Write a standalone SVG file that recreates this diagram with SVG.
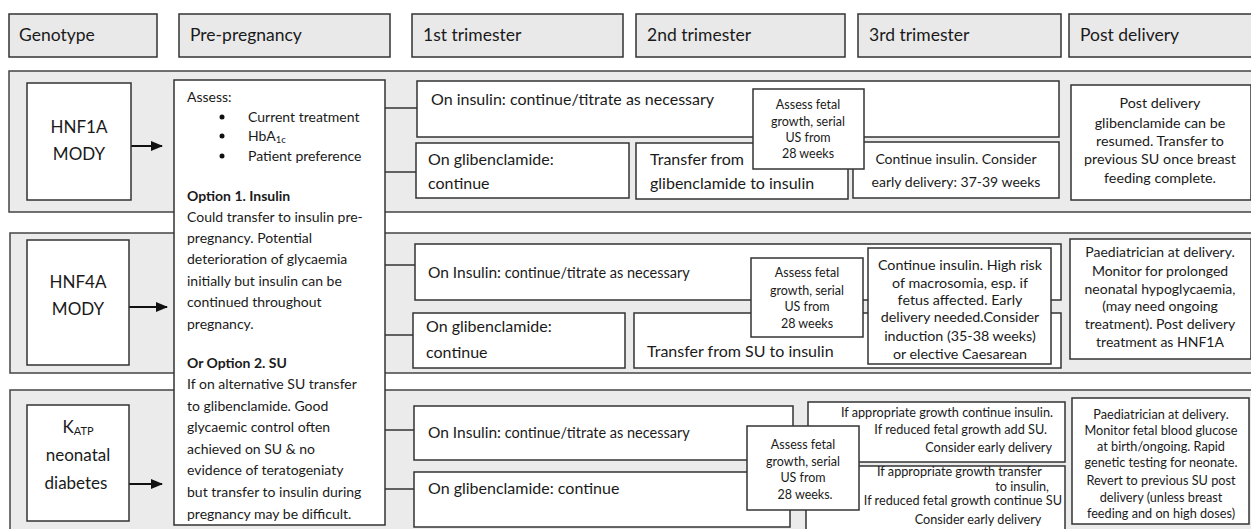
<svg xmlns="http://www.w3.org/2000/svg" width="1251" height="529" viewBox="0 0 1251 529">
<defs>
<style>
text{font-family:Lato,"Liberation Sans",sans-serif;fill:#1a1a1a}
.hdr{fill:#e9e9e9;stroke:#333;stroke-width:1.5}
.band{fill:#ebebeb;stroke:#444;stroke-width:1.5}
.box{fill:#fff;stroke:#333;stroke-width:1.5}
.conn{stroke:#333;stroke-width:1.5;fill:none}
.arr{stroke:#111;stroke-width:2;fill:none}
.h{font-size:17.5px}
.g{font-size:17px}
.m{font-size:16px}
.p{font-size:14px}
.q{font-size:14.3px}
.s{font-size:12.5px}
.t{font-size:12.7px}
.c{text-anchor:middle}
.r{text-anchor:end}
.b{font-weight:bold}
</style>
<marker id="ah" markerUnits="userSpaceOnUse" markerWidth="12" markerHeight="10" refX="11" refY="5" orient="auto">
<path d="M0,0 L12,5 L0,10 z" fill="#111"/>
</marker>
</defs>

<g id="headers">
<rect class="hdr" x="9" y="14" width="148" height="43"/>
<text class="h" x="19" y="41">Genotype</text>
<rect class="hdr" x="179" y="14" width="211" height="43"/>
<text class="h" x="190" y="41">Pre-pregnancy</text>
<rect class="hdr" x="412" y="14" width="211" height="43"/>
<text class="h" x="423" y="41">1st trimester</text>
<rect class="hdr" x="636" y="14" width="209" height="43"/>
<text class="h" x="647" y="41">2nd trimester</text>
<rect class="hdr" x="858" y="14" width="203" height="43"/>
<text class="h" x="869" y="41">3rd trimester</text>
<rect class="hdr" x="1069" y="14" width="185" height="43"/>
<text class="h" x="1080" y="41">Post delivery</text>
</g>

<g id="bands">
<rect class="band" x="9" y="71" width="1250" height="141"/>
<rect class="band" x="10" y="233" width="1250" height="140"/>
<rect class="band" x="10" y="390" width="1250" height="150"/>
</g>

<g id="connectors">
<line class="arr" x1="120" y1="146" x2="162" y2="146" marker-end="url(#ah)"/>
<line class="arr" x1="120" y1="307" x2="167" y2="307" marker-end="url(#ah)"/>
<line class="arr" x1="118" y1="484" x2="162" y2="484" marker-end="url(#ah)"/>
<line class="conn" x1="385" y1="108" x2="417" y2="108"/>
<line class="conn" x1="385" y1="172" x2="416" y2="172"/>
<line class="conn" x1="385" y1="265" x2="415" y2="265"/>
<line class="conn" x1="385" y1="335" x2="413" y2="335"/>
<line class="conn" x1="385" y1="430" x2="414" y2="430"/>
<line class="conn" x1="385" y1="489" x2="414" y2="489"/>
</g>

<g id="hnf1a">
<rect class="box" x="27" y="83" width="104" height="117"/>
<text class="g c" x="79" y="133">HNF1A</text>
<text class="g c" x="79" y="160">MODY</text>
</g>
<g id="hnf4a">
<rect class="box" x="27" y="240" width="102" height="125"/>
<text class="g c" x="78" y="288">HNF4A</text>
<text class="g c" x="78" y="315">MODY</text>
</g>
<g id="katp">
<rect class="box" x="27" y="405" width="102" height="116"/>
<text class="g c" x="78" y="433">K<tspan font-size="11" dy="2">ATP</tspan></text>
<text class="g c" x="78" y="461">neonatal</text>
<text class="g c" x="76" y="489">diabetes</text>
</g>

<g id="prepregnancy">
<rect class="box" x="174" y="80" width="211" height="445"/>
<text class="p" x="187" y="102">Assess:</text>
<circle cx="222" cy="117" r="2.5" fill="#111"/>
<circle cx="222" cy="136" r="2.5" fill="#111"/>
<circle cx="222" cy="156" r="2.5" fill="#111"/>
<text class="p" x="248" y="122">Current treatment</text>
<text class="p" x="248" y="141">HbA<tspan font-size="9.5" dy="2">1c</tspan></text>
<text class="p" x="248" y="161">Patient preference</text>
<text class="p b" x="187" y="201">Option 1. Insulin</text>
<text class="p" x="187" y="222">Could transfer to insulin pre-</text>
<text class="p" x="187" y="243">pregnancy.  Potential</text>
<text class="p" x="187" y="264">deterioration of glycaemia</text>
<text class="p" x="187" y="286">initially but insulin can be</text>
<text class="p" x="187" y="307">continued throughout</text>
<text class="p" x="187" y="329">pregnancy.</text>
<text class="p b" x="187" y="368">Or Option 2. SU</text>
<text class="p" x="187" y="389">If on alternative SU transfer</text>
<text class="p" x="187" y="411">to glibenclamide. Good</text>
<text class="p" x="187" y="432">glycaemic control often</text>
<text class="p" x="187" y="454">achieved on SU &amp; no</text>
<text class="p" x="187" y="475">evidence of teratogeniaty</text>
<text class="p" x="187" y="497">but transfer to insulin during</text>
<text class="p" x="187" y="519">pregnancy may be difficult.</text>
</g>

<g id="r1-insulin">
<rect class="box" x="417" y="81" width="642" height="56"/>
<text class="m" x="431" y="105">On insulin: continue/titrate as necessary</text>
</g>
<g id="r1-glib">
<rect class="box" x="416" y="143" width="213" height="55"/>
<text class="m" x="428" y="165">On glibenclamide:</text>
<text class="m" x="428" y="189">continue</text>
</g>
<g id="r1-transfer">
<rect class="box" x="636" y="143" width="212" height="56"/>
<text class="m" x="650" y="165">Transfer from</text>
<text class="m" x="650" y="189">glibenclamide to insulin</text>
</g>
<g id="r1-third">
<rect class="box" x="853" y="142" width="206" height="56"/>
<text class="p c" x="956" y="164">Continue insulin. Consider</text>
<text class="p c" x="956" y="187">early delivery: 37-39 weeks</text>
</g>
<g id="r1-assess">
<rect class="box" x="753" y="89" width="111" height="80"/>
<text class="s c" x="808" y="109">Assess fetal</text>
<text class="s c" x="808" y="126">growth, serial</text>
<text class="s c" x="808" y="142">US from</text>
<text class="s c" x="808" y="158">28  weeks</text>
</g>
<g id="r1-post">
<rect class="box" x="1071" y="85" width="180" height="115"/>
<text class="q c" x="1160" y="108">Post delivery</text>
<text class="q c" x="1160" y="128">glibenclamide can be</text>
<text class="q c" x="1160" y="146">resumed. Transfer to</text>
<text class="q c" x="1160" y="164">previous SU once breast</text>
<text class="q c" x="1160" y="183">feeding complete.</text>
</g>

<g id="r2-insulin">
<rect class="box" x="415" y="244" width="646" height="56"/>
<text font-size="14.5" x="428" y="278"><tspan font-size="15.5">On Insulin:</tspan> continue/titrate as necessary</text>
</g>
<g id="r2-glib">
<rect class="box" x="413" y="313" width="212" height="55"/>
<text class="m" x="426" y="332">On glibenclamide:</text>
<text class="m" x="426" y="358">continue</text>
</g>
<g id="r2-transfer">
<rect class="box" x="634" y="313" width="427" height="55"/>
<text class="m" x="647" y="357">Transfer from SU to insulin</text>
</g>
<g id="r2-assess">
<rect class="box" x="751" y="258" width="112" height="79"/>
<text class="s c" x="807" y="277">Assess fetal</text>
<text class="s c" x="807" y="295">growth, serial</text>
<text class="s c" x="807" y="311">US from</text>
<text class="s c" x="807" y="328">28  weeks</text>
</g>
<g id="r2-third">
<rect class="box" x="868" y="248" width="183" height="116"/>
<text class="q c" x="960" y="270">Continue insulin. High risk</text>
<text class="q c" x="960" y="288">of macrosomia, esp. if</text>
<text class="q c" x="960" y="305">fetus affected. Early</text>
<text class="q c" x="960" y="322">delivery needed.Consider</text>
<text class="q c" x="960" y="341">induction (35-38 weeks)</text>
<text class="q c" x="960" y="359">or elective Caesarean</text>
</g>
<g id="r2-post">
<rect class="box" x="1070" y="239" width="181" height="120"/>
<text class="p c" x="1160" y="257">Paediatrician at delivery.</text>
<text class="p c" x="1160" y="276">Monitor for prolonged</text>
<text class="p c" x="1160" y="294">neonatal hypoglycaemia,</text>
<text class="p c" x="1160" y="311">(may need ongoing</text>
<text class="p c" x="1160" y="329">treatment).  Post delivery</text>
<text class="p c" x="1160" y="347">treatment as HNF1A</text>
</g>

<g id="r3-insulin">
<rect class="box" x="414" y="406" width="379" height="54"/>
<text font-size="14.5" x="428" y="438"><tspan font-size="15.5">On Insulin:</tspan> continue/titrate as necessary</text>
</g>
<g id="r3-glib">
<rect class="box" x="414" y="472" width="376" height="55"/>
<text class="m" x="428" y="494">On glibenclamide: continue</text>
</g>
<g id="r3-third-top">
<rect class="box" x="808" y="402" width="257" height="60"/>
<text class="t r" x="1053" y="417">If appropriate growth continue insulin.</text>
<text class="t r" x="1047" y="434">If reduced fetal growth add SU.</text>
<text class="t r" x="1052" y="452">Consider early delivery</text>
</g>
<g id="r3-third-bottom">
<rect class="box" x="806" y="466" width="259" height="70"/>
<text class="t" x="877" y="476">If appropriate growth transfer</text>
<text class="t r" x="1049" y="491">to insulin,</text>
<text class="t r" x="1062" y="505">If  reduced fetal growth continue SU</text>
<text class="t c" x="978" y="524">Consider  early delivery</text>
</g>
<g id="r3-assess">
<rect class="box" x="747" y="426" width="112" height="84"/>
<text class="s c" x="803" y="449">Assess fetal</text>
<text class="s c" x="803" y="466">growth, serial</text>
<text class="s c" x="803" y="482">US from</text>
<text class="s c" x="805" y="499">28 weeks.</text>
</g>
<g id="r3-post">
<rect class="box" x="1072" y="398" width="177" height="126"/>
<text class="t c" x="1161" y="419">Paediatrician at delivery.</text>
<text class="t c" x="1161" y="435">Monitor fetal blood glucose</text>
<text class="t c" x="1161" y="451">at birth/ongoing. Rapid</text>
<text class="t c" x="1161" y="467">genetic testing for neonate.</text>
<text class="t c" x="1161" y="485">Revert to previous SU post</text>
<text class="t c" x="1161" y="502">delivery  (unless breast</text>
<text class="t c" x="1161" y="518">feeding and on high doses)</text>
</g>
</svg>
